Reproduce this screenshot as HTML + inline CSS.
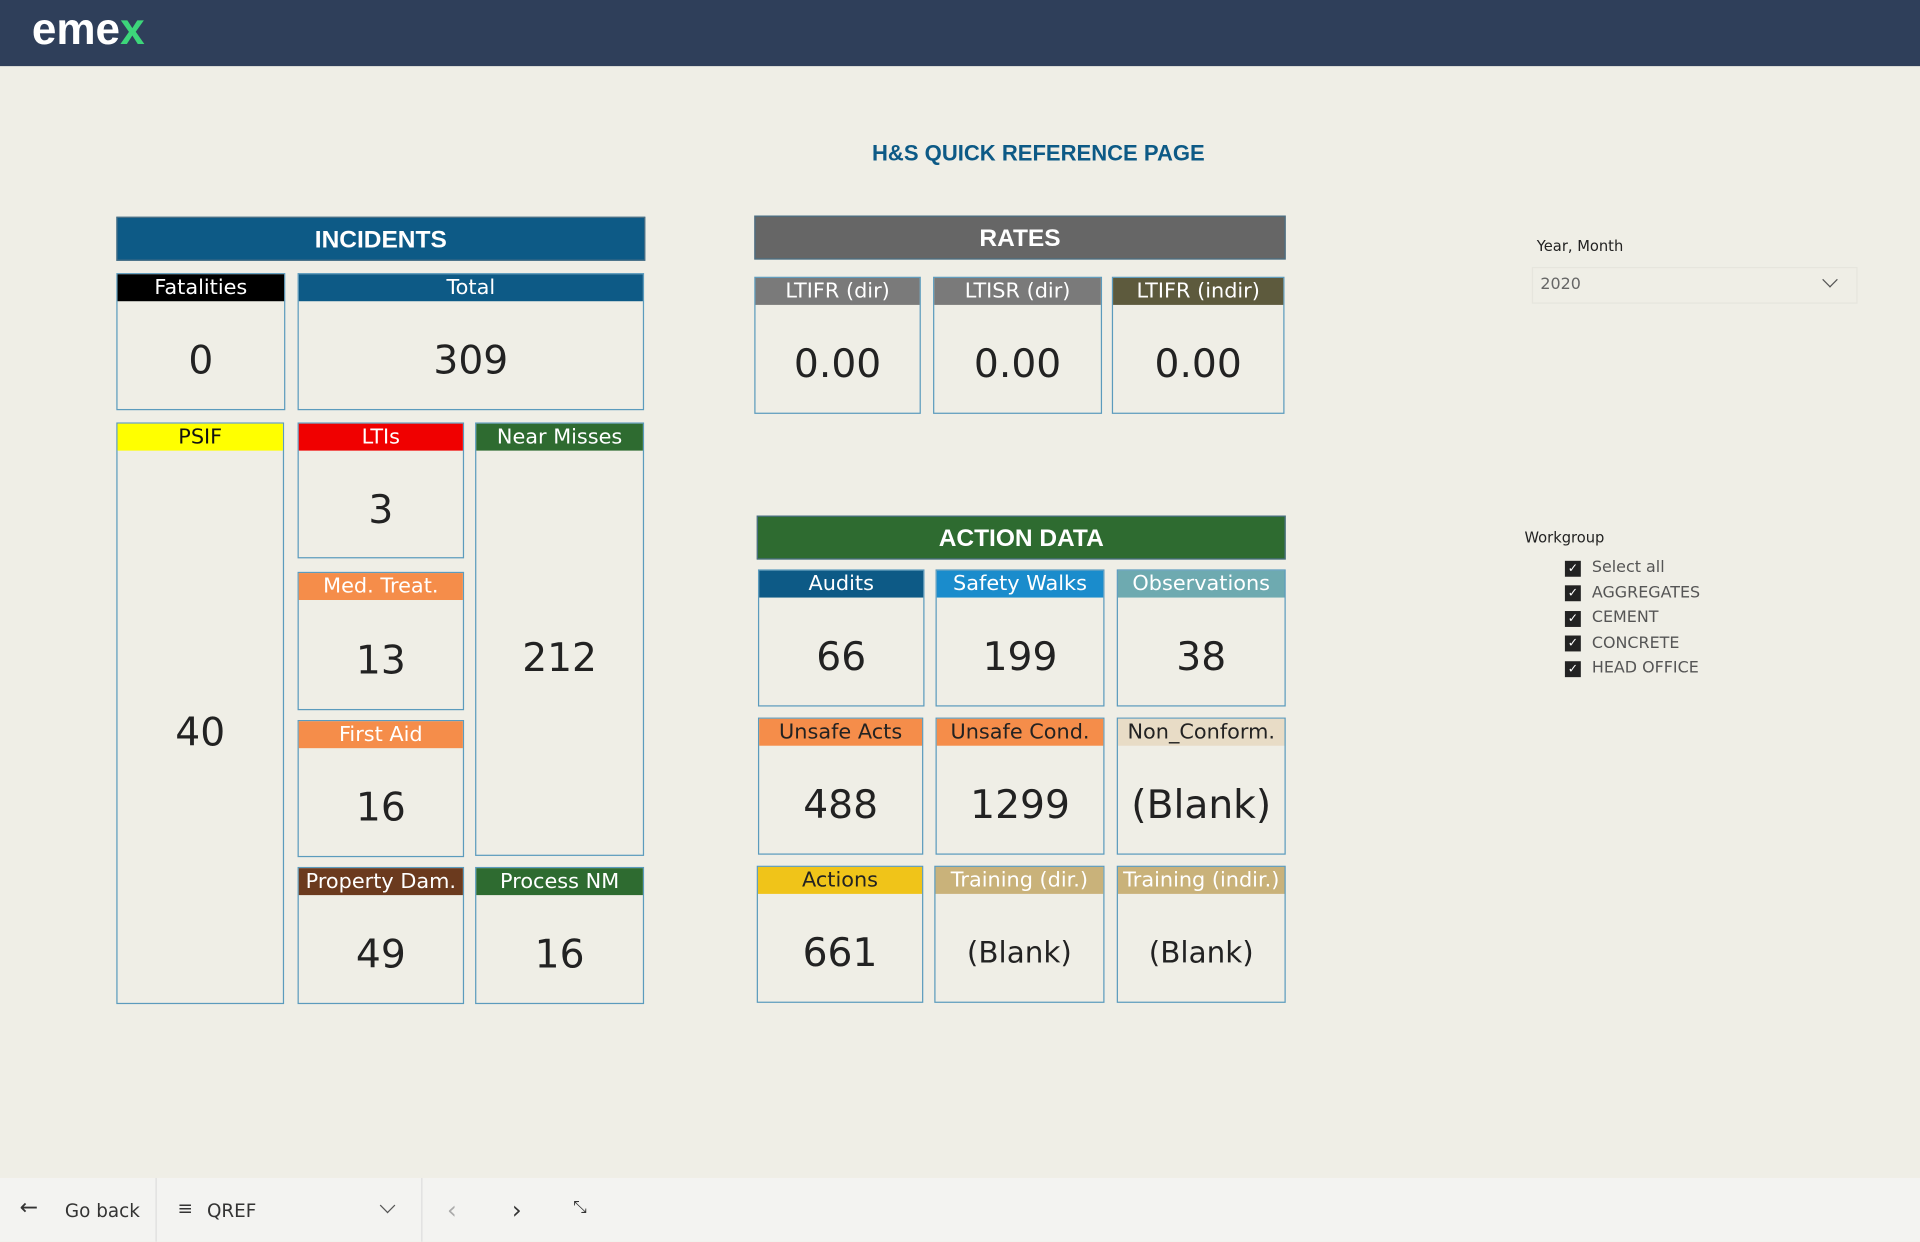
<!DOCTYPE html>
<html><head><meta charset="utf-8"><style>
html,body{margin:0;padding:0;width:1920px;height:1242px;overflow:hidden;background:#efeee6;}
#w{position:absolute;left:0;top:0;width:1568px;height:1014px;transform:scale(1.2245);transform-origin:0 0;font-family:"DejaVu Sans","Liberation Sans",sans-serif;}
.top{position:absolute;left:0;top:0;width:1568px;height:54px;background:#2f3f5a;}
.logo{position:absolute;left:26px;top:3px;color:#fff;font:bold 36px "Liberation Sans",sans-serif;}
.logo span{color:#3dd67a}
.title{position:absolute;left:620px;width:456px;top:115px;text-align:center;color:#0d5a86;font:bold 18px "Liberation Sans",sans-serif}
.hdr{position:absolute;color:#fff;font:bold 20px "Liberation Sans",sans-serif;text-align:center;box-sizing:border-box;border:1px solid #4a6f85}
.c{position:absolute;box-sizing:border-box;border:1px solid #5b9bbd;}
.c .b{height:22px;line-height:22px;text-align:center;color:#fff;font-size:17px;}
.c .v{position:absolute;left:0;right:0;top:22px;bottom:0;padding-top:8px;box-sizing:border-box;display:flex;align-items:center;justify-content:center;font-size:32px;color:#222;}
.bot{position:absolute;left:0;top:962px;width:1568px;height:52px;background:#f3f3f1;font:15px "DejaVu Sans",sans-serif;color:#333}
.sl{position:absolute;font-size:12px;color:#222}
.cb{position:absolute;width:13px;height:13px;background:#222;color:#fff;font-size:10px;line-height:13px;text-align:center}
.it{position:absolute;font-size:13px;color:#555}
</style></head><body><div id="w">
<div class="top"><div class="logo">eme<span>x</span></div></div>
<div class="title">H&amp;S QUICK REFERENCE PAGE</div>

<div class="hdr" style="left:95px;top:177px;width:432px;height:36px;line-height:36px;background:#0d5a86">INCIDENTS</div>
<div class="hdr" style="left:616px;top:176px;width:434px;height:36px;line-height:36px;background:#666">RATES</div>
<div class="hdr" style="left:618px;top:421px;width:432px;height:36px;line-height:36px;background:#2e6b30">ACTION DATA</div>

<div class="c" style="left:95px;top:223px;width:138px;height:112px"><div class="b" style="background:#000">Fatalities</div><div class="v">0</div></div>
<div class="c" style="left:243px;top:223px;width:283px;height:112px"><div class="b" style="background:#0d5a86">Total</div><div class="v">309</div></div>
<div class="c" style="left:95px;top:345px;width:137px;height:475px"><div class="b" style="background:#ffff00;color:#111">PSIF</div><div class="v">40</div></div>
<div class="c" style="left:243px;top:345px;width:136px;height:111px"><div class="b" style="background:#f00000">LTIs</div><div class="v">3</div></div>
<div class="c" style="left:388px;top:345px;width:138px;height:354px"><div class="b" style="background:#2e6b30">Near Misses</div><div class="v">212</div></div>
<div class="c" style="left:243px;top:467px;width:136px;height:113px"><div class="b" style="background:#f58d4a">Med. Treat.</div><div class="v">13</div></div>
<div class="c" style="left:243px;top:588px;width:136px;height:112px"><div class="b" style="background:#f58d4a">First Aid</div><div class="v">16</div></div>
<div class="c" style="left:243px;top:708px;width:136px;height:112px"><div class="b" style="background:#6b3a1e">Property Dam.</div><div class="v">49</div></div>
<div class="c" style="left:388px;top:708px;width:138px;height:112px"><div class="b" style="background:#2e6b30">Process NM</div><div class="v">16</div></div>

<div class="c" style="left:616px;top:226px;width:136px;height:112px"><div class="b" style="background:#7a7a7a">LTIFR (dir)</div><div class="v">0.00</div></div>
<div class="c" style="left:762px;top:226px;width:138px;height:112px"><div class="b" style="background:#7a7a7a">LTISR (dir)</div><div class="v">0.00</div></div>
<div class="c" style="left:908px;top:226px;width:141px;height:112px"><div class="b" style="background:#5d5a3d">LTIFR (indir)</div><div class="v">0.00</div></div>

<div class="c" style="left:619px;top:465px;width:136px;height:112px"><div class="b" style="background:#0d5a86">Audits</div><div class="v">66</div></div>
<div class="c" style="left:764px;top:465px;width:138px;height:112px"><div class="b" style="background:#1a8ccc">Safety Walks</div><div class="v">199</div></div>
<div class="c" style="left:912px;top:465px;width:138px;height:112px"><div class="b" style="background:#6eaab0">Observations</div><div class="v">38</div></div>
<div class="c" style="left:619px;top:586px;width:135px;height:112px"><div class="b" style="background:#f58d4a;color:#222">Unsafe Acts</div><div class="v">488</div></div>
<div class="c" style="left:764px;top:586px;width:138px;height:112px"><div class="b" style="background:#f58d4a;color:#222">Unsafe Cond.</div><div class="v">1299</div></div>
<div class="c" style="left:912px;top:586px;width:138px;height:112px"><div class="b" style="background:#e8dcc6;color:#222">Non_Conform.</div><div class="v">(Blank)</div></div>
<div class="c" style="left:618px;top:707px;width:136px;height:112px"><div class="b" style="background:#f0c419;color:#222">Actions</div><div class="v">661</div></div>
<div class="c" style="left:763px;top:707px;width:139px;height:112px"><div class="b" style="background:#c9b27a">Training (dir.)</div><div class="v" style="font-size:24px">(Blank)</div></div>
<div class="c" style="left:912px;top:707px;width:138px;height:112px"><div class="b" style="background:#c9b27a">Training (indir.)</div><div class="v" style="font-size:24px">(Blank)</div></div>

<div class="sl" style="left:1255px;top:194px">Year, Month</div>
<div style="position:absolute;left:1251px;top:218px;width:264px;height:28px;border:1px solid #e6e5dd"></div>
<div class="it" style="left:1258px;top:225px;color:#666">2020</div>
<div style="position:absolute;left:1490px;top:224px;width:8px;height:8px;border-right:1px solid #555;border-bottom:1px solid #555;transform:rotate(45deg)"></div>
<div class="sl" style="left:1245px;top:432px">Workgroup</div>
<div class="cb" style="left:1278px;top:458px">✓</div><div class="it" style="left:1300px;top:456px">Select all</div>
<div class="cb" style="left:1278px;top:478px">✓</div><div class="it" style="left:1300px;top:477px">AGGREGATES</div>
<div class="cb" style="left:1278px;top:499px">✓</div><div class="it" style="left:1300px;top:497px">CEMENT</div>
<div class="cb" style="left:1278px;top:519px">✓</div><div class="it" style="left:1300px;top:518px">CONCRETE</div>
<div class="cb" style="left:1278px;top:540px">✓</div><div class="it" style="left:1300px;top:538px">HEAD OFFICE</div>

<div class="bot">
<div style="position:absolute;left:16px;top:14px;font-size:18px">←</div>
<div style="position:absolute;left:53px;top:18px">Go back</div>
<div style="position:absolute;left:127px;top:0;width:1px;height:52px;background:#ddd"></div>
<div style="position:absolute;left:145px;top:16px">≡</div>
<div style="position:absolute;left:169px;top:18px">QREF</div>
<div style="position:absolute;left:312px;top:18px;width:8px;height:8px;border-right:1px solid #555;border-bottom:1px solid #555;transform:rotate(45deg)"></div>
<div style="position:absolute;left:344px;top:0;width:1px;height:52px;background:#ddd"></div>
<div style="position:absolute;left:365px;top:14px;font-size:20px;color:#aaa">‹</div>
<div style="position:absolute;left:418px;top:14px;font-size:20px">›</div>
<div style="position:absolute;left:468px;top:16px;font-size:14px">⤡</div>
</div>
</div></body></html>
